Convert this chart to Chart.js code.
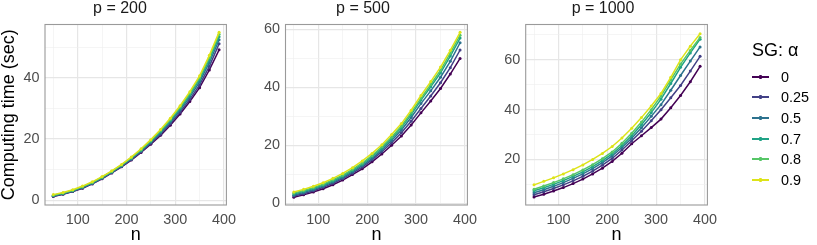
<!DOCTYPE html>
<html>
<head>
<meta charset="utf-8">
<script src="https://cdn.jsdelivr.net/npm/chart.js@4.4.1/dist/chart.umd.min.js"></script>
<style>
  html, body { margin: 0; padding: 0; background: #ffffff; }
  body { width: 817px; height: 245px; position: relative; overflow: hidden; font-family: "Liberation Sans", Arial, sans-serif; }
  canvas { position: absolute; top: 0; }
  #legend { position: absolute; left: 0; top: 0; width: 817px; height: 245px; pointer-events: none; }
  .lg-title { position: absolute; left: 752px; top: 39px; font-size: 18px; line-height: 22px; color: #000; white-space: nowrap; }
  .lg-item { position: absolute; left: 752px; height: 20px; }
  .lg-line { position: absolute; left: 0; top: 9px; width: 17px; height: 2px; }
  .lg-dot { position: absolute; left: 7px; top: 8px; width: 3px; height: 4px; border-radius: 1px; }
  .lg-label { position: absolute; left: 29px; top: 1px; font-size: 14.4px; line-height: 18px; color: #000; white-space: nowrap; }
</style>
</head>
<body>
<canvas id="c1" width="242" height="245" style="left:0px"></canvas>
<canvas id="c2" width="238" height="245" style="left:245px"></canvas>
<canvas id="c3" width="238" height="245" style="left:485px"></canvas>
<div id="legend"></div>
<script>
// ---------- data ----------
const nValues = [50, 70, 90, 110, 130, 150, 170, 190, 210, 230, 250, 270, 290, 310, 330, 350, 370, 390];
const alphaLabels = ['0', '0.25', '0.5', '0.7', '0.8', '0.9'];
const seriesColors = ['#440154', '#424086', '#2C728E', '#20A386', '#56C667', '#DDE318'];
const panelTitles = ['p = 200', 'p = 500', 'p = 1000'];

// computing time (sec), one row per alpha (0, 0.25, 0.5, 0.7, 0.8, 0.9)
const timesP200 = [
  [1.2, 1.9, 2.8, 3.9, 5.3, 7.0, 8.9, 10.9, 13.1, 15.6, 18.3, 21.2, 24.5, 28.2, 32.3, 36.8, 42.6, 49.2],
  [1.3, 2.0, 2.9, 4.0, 5.4, 7.1, 9.0, 11.0, 13.3, 15.8, 18.6, 21.6, 25.0, 28.8, 33.0, 37.7, 43.8, 51.2],
  [1.4, 2.1, 3.0, 4.1, 5.5, 7.2, 9.1, 11.2, 13.5, 16.1, 19.0, 22.1, 25.6, 29.5, 33.8, 38.7, 45.0, 52.5],
  [1.5, 2.2, 3.1, 4.3, 5.7, 7.4, 9.3, 11.4, 13.7, 16.3, 19.3, 22.5, 26.1, 30.1, 34.5, 39.5, 46.0, 53.5],
  [1.6, 2.3, 3.2, 4.4, 5.8, 7.5, 9.4, 11.5, 13.9, 16.5, 19.5, 22.8, 26.4, 30.5, 35.0, 40.1, 46.7, 54.3],
  [1.8, 2.5, 3.4, 4.6, 6.0, 7.7, 9.6, 11.7, 14.1, 16.8, 19.8, 23.1, 26.8, 30.9, 35.5, 40.7, 47.4, 55.0]
];
const timesP500 = [
  [2.1, 2.9, 3.9, 5.0, 6.4, 8.0, 9.9, 11.9, 14.3, 17.0, 20.0, 23.2, 27.0, 31.2, 35.3, 39.6, 44.6, 50.0],
  [2.5, 3.3, 4.3, 5.5, 6.9, 8.5, 10.4, 12.5, 15.0, 17.8, 20.9, 24.3, 28.3, 32.7, 37.0, 41.6, 46.8, 52.9],
  [2.8, 3.7, 4.7, 5.9, 7.3, 8.9, 10.8, 13.0, 15.5, 18.4, 21.7, 25.3, 29.6, 34.4, 38.8, 43.5, 49.0, 55.4],
  [3.2, 4.1, 5.1, 6.3, 7.7, 9.4, 11.3, 13.5, 16.1, 19.0, 22.4, 26.1, 30.6, 35.6, 40.2, 45.0, 50.8, 57.0],
  [3.5, 4.4, 5.4, 6.6, 8.1, 9.7, 11.7, 13.9, 16.5, 19.5, 22.9, 26.7, 31.3, 36.3, 41.0, 45.9, 51.8, 58.0],
  [3.9, 4.8, 5.9, 7.1, 8.6, 10.3, 12.3, 14.6, 17.2, 20.2, 23.7, 27.5, 32.1, 37.2, 42.0, 47.0, 52.8, 59.0]
];
const timesP1000 = [
  [4.9, 6.0, 7.3, 8.7, 10.3, 12.1, 14.2, 16.5, 19.2, 22.5, 26.3, 29.5, 32.8, 36.2, 40.8, 45.7, 51.2, 57.4],
  [5.8, 7.0, 8.3, 9.8, 11.4, 13.2, 15.3, 17.7, 20.4, 23.8, 27.5, 31.3, 35.5, 40.0, 44.8, 49.7, 55.5, 61.4],
  [6.6, 7.8, 9.2, 10.7, 12.4, 14.2, 16.3, 18.7, 21.4, 24.8, 28.5, 32.7, 37.3, 42.0, 47.8, 53.7, 59.5, 65.2],
  [7.4, 8.6, 10.0, 11.5, 13.2, 15.0, 17.1, 19.5, 22.2, 25.6, 29.5, 33.9, 38.8, 44.2, 50.5, 57.0, 62.8, 68.3],
  [8.0, 9.3, 10.7, 12.2, 13.9, 15.8, 17.9, 20.3, 23.0, 26.5, 30.5, 35.0, 40.0, 45.5, 52.0, 58.3, 63.8, 69.0],
  [9.8, 11.2, 12.6, 14.2, 15.9, 17.8, 20.0, 22.4, 25.2, 28.6, 32.5, 36.8, 41.5, 46.5, 53.0, 60.0, 65.5, 70.5]
];

// tick labels and grid breaks
const xTickLabels = [100, 200, 300, 400];
const xGridBreaks = [50, 100, 150, 200, 250, 300, 350, 400];
const yTickLabelsP200 = [0, 20, 40];
const yTickLabelsP500 = [0, 20, 40, 60];
const yTickLabelsP1000 = [20, 40, 60];
const yGridP200 = [0, 10, 20, 30, 40, 50];
const yGridP500 = [0, 10, 20, 30, 40, 50, 60];
const yGridP1000 = [10, 20, 30, 40, 50, 60, 70];

// ---------- styling / layout ----------
const FONT = '"Liberation Sans", Arial, Helvetica, sans-serif';
const GRID_MAJOR = '#e6e6e6';
const GRID_MINOR = '#efefef';

const panelBorder = {
  id: 'panelBorder',
  afterDraw(chart) {
    const a = chart.chartArea, ctx = chart.ctx;
    ctx.save();
    ctx.strokeStyle = '#9a9a9a';
    ctx.lineWidth = 1.1;
    ctx.strokeRect(a.left, a.top, a.right - a.left, a.bottom - a.top);
    ctx.restore();
  }
};

function gridOpts(majors) {
  return {
    color: (c) => (c.tick && majors.includes(c.tick.value)) ? GRID_MAJOR : GRID_MINOR,
    lineWidth: (c) => (c.tick && majors.includes(c.tick.value)) ? 1.2 : 0.6,
    drawTicks: false
  };
}

function makePanel(canvasId, title, times, yMin, yMax, yGrid, yLabels, yAxisWidth, showYTitle) {
  const datasets = alphaLabels.map((a, i) => ({
    label: a,
    data: nValues.map((n, j) => ({ x: n, y: times[i][j] })),
    borderColor: seriesColors[i],
    backgroundColor: seriesColors[i],
    borderWidth: 1.5,
    pointRadius: 1.5,
    pointBorderWidth: 0,
    pointHoverRadius: 0,
    tension: 0,
    order: alphaLabels.length - 1 - i
  }));
  return new Chart(document.getElementById(canvasId), {
    type: 'line',
    data: { datasets },
    plugins: [panelBorder],
    options: {
      responsive: false,
      animation: false,
      devicePixelRatio: 1,
      events: [],
      layout: { padding: { left: 0, right: 2, top: 0, bottom: 0 } },
      plugins: {
        legend: { display: false },
        tooltip: { enabled: false },
        title: {
          display: true, text: title, color: '#1a1a1a',
          font: { family: FONT, size: 16, weight: 'normal', lineHeight: 1.125 },
          padding: { top: 0, bottom: 6.5 }
        }
      },
      scales: {
        x: {
          type: 'linear', min: 33, max: 405,
          afterBuildTicks: (s) => { s.ticks = xGridBreaks.map(v => ({ value: v })); },
          afterFit: (s) => { s.height = 40; },
          ticks: {
            autoSkip: false, maxRotation: 0, padding: 6, color: '#4d4d4d',
            font: { family: FONT, size: 14.4 },
            callback: (v) => xTickLabels.includes(v) ? String(v) : ''
          },
          grid: gridOpts(xTickLabels),
          border: { display: false },
          title: {
            display: true, text: 'n', color: '#000',
            font: { family: FONT, size: 18, lineHeight: 1 },
            padding: { top: 0, bottom: 1 }
          }
        },
        y: {
          type: 'linear', min: yMin, max: yMax,
          afterBuildTicks: (s) => { s.ticks = yGrid.map(v => ({ value: v })); },
          afterFit: (s) => { s.width = yAxisWidth; },
          ticks: {
            autoSkip: false, padding: 5.5, color: '#4d4d4d',
            font: { family: FONT, size: 14.4 },
            callback: (v) => yLabels.includes(v) ? String(v) : ''
          },
          grid: gridOpts(yLabels),
          border: { display: false },
          title: {
            display: showYTitle, text: 'Computing time (sec)', color: '#000',
            font: { family: FONT, size: 18, lineHeight: 1 },
            padding: { top: 0, bottom: 0 }
          }
        }
      }
    }
  });
}

makePanel('c1', panelTitles[0], timesP200, -1.6, 57.5, yGridP200, yTickLabelsP200, 45, true);
makePanel('c2', panelTitles[1], timesP500, -0.6, 61.7, yGridP500, yTickLabelsP500, 40.5, false);
makePanel('c3', panelTitles[2], timesP1000, 1.7, 74.2, yGridP1000, yTickLabelsP1000, 40.7, false);

// ---------- legend ----------
const lg = document.getElementById('legend');
const t = document.createElement('div');
t.className = 'lg-title';
t.textContent = 'SG: α';
lg.appendChild(t);
alphaLabels.forEach((a, i) => {
  const item = document.createElement('div');
  item.className = 'lg-item';
  item.style.top = (66.7 + i * 20.65) + 'px';
  const line = document.createElement('div');
  line.className = 'lg-line';
  line.style.background = seriesColors[i];
  const dot = document.createElement('div');
  dot.className = 'lg-dot';
  dot.style.background = seriesColors[i];
  const lab = document.createElement('div');
  lab.className = 'lg-label';
  lab.textContent = a;
  item.appendChild(line); item.appendChild(dot); item.appendChild(lab);
  lg.appendChild(item);
});
</script>
</body>
</html>
